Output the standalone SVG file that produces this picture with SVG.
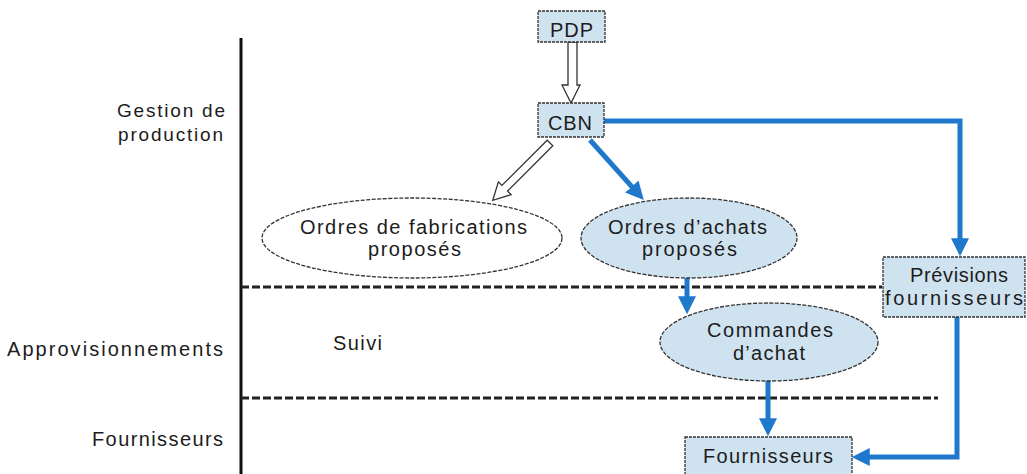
<svg xmlns="http://www.w3.org/2000/svg" width="1027" height="474" viewBox="0 0 1027 474">
<style>
text{font-family:"Liberation Sans",Arial,sans-serif;font-size:20px;fill:#1c1c1c}
.lbl{text-anchor:end}
.c{text-anchor:middle}
.sm{font-size:19px}
.box{fill:#cfe2f0;stroke:#333;stroke-width:1.3;stroke-dasharray:3 1}
.ell{stroke:#333;stroke-width:1.3;stroke-dasharray:4 1.5}
.blue{fill:none;stroke:#1f78cc;stroke-width:5}
.dash{stroke:#222;stroke-width:3;stroke-dasharray:8 3;fill:none}
.hollow{fill:#fff;stroke:#333;stroke-width:1.3}
</style>
<defs>
<marker id="bh" markerUnits="userSpaceOnUse" markerWidth="18" markerHeight="18" refX="6" refY="8" orient="auto" viewBox="0 0 16 16">
<path d="M0,0 L16,8 L0,16 Z" fill="#1f78cc"/>
</marker>
</defs>
<rect width="1027" height="474" fill="#fff"/>
<g id="axes">
<line x1="241" y1="38" x2="241" y2="474" stroke="#111" stroke-width="3"/>
<line class="dash" x1="241" y1="287" x2="882" y2="287"/>
<line class="dash" x1="241" y1="398" x2="938" y2="398"/>
</g>
<g id="lanes">
<text class="lbl sm" x="225" y="117" textLength="108">Gestion de</text>
<text class="lbl sm" x="223" y="141" textLength="105">production</text>
<text class="lbl" x="223" y="356" textLength="216">Approvisionnements</text>
<text class="lbl" x="223" y="446" textLength="131">Fournisseurs</text>
<text x="333" y="350" textLength="49">Suivi</text>
</g>
<g id="connectors">
<path class="blue" d="M604,121 H960 V245" marker-end="url(#bh)"/>
<path class="blue" d="M590,140 L636.3,191.6" marker-end="url(#bh)"/>
<path class="blue" d="M687,278 V303" marker-end="url(#bh)"/>
<path class="blue" d="M768,381 V425" marker-end="url(#bh)"/>
<path class="blue" d="M957,317 V457 H863" marker-end="url(#bh)"/>
<path class="hollow" d="M568,42 V85 H562 L571,103 L580,85 H577 V42 Z"/>
<path class="hollow" transform="translate(550,143) rotate(45)" d="M-4,0 V64 H-9 L0,81 L9,64 H4 V0 Z"/>
</g>
<g id="PDP">
<rect class="box" x="538" y="11" width="67" height="31"/>
<text class="c" x="571.5" y="37" textLength="43">PDP</text>
</g>
<g id="CBN">
<rect class="box" x="538" y="103" width="66" height="34"/>
<text class="c" x="570" y="130" textLength="44">CBN</text>
</g>
<g id="ordres-fabrication">
<ellipse class="ell" cx="412" cy="238" rx="150" ry="40" fill="#fff"/>
<text class="c" x="413.5" y="234" textLength="227">Ordres de fabrications</text>
<text class="c" x="414.5" y="256" textLength="93">proposés</text>
</g>
<g id="ordres-achats">
<ellipse class="ell" cx="689" cy="238" rx="108" ry="40" fill="#cfe2f0"/>
<text class="c" x="687.5" y="234" textLength="159">Ordres d’achats</text>
<text class="c" x="689.5" y="256" textLength="95">proposés</text>
</g>
<g id="previsions">
<rect class="box" x="883" y="257" width="142" height="60"/>
<text class="c" x="959" y="282" textLength="98">Prévisions</text>
<text class="c" x="954" y="305" textLength="138">fournisseurs</text>
</g>
<g id="commandes">
<ellipse class="ell" cx="769" cy="342" rx="109" ry="39" fill="#cfe2f0"/>
<text class="c" x="770" y="337" textLength="126">Commandes</text>
<text class="c" x="769" y="360" textLength="72">d’achat</text>
</g>
<g id="fournisseurs">
<rect class="box" x="685" y="437" width="167" height="40"/>
<text class="c" x="768" y="463" textLength="130">Fournisseurs</text>
</g>
</svg>
